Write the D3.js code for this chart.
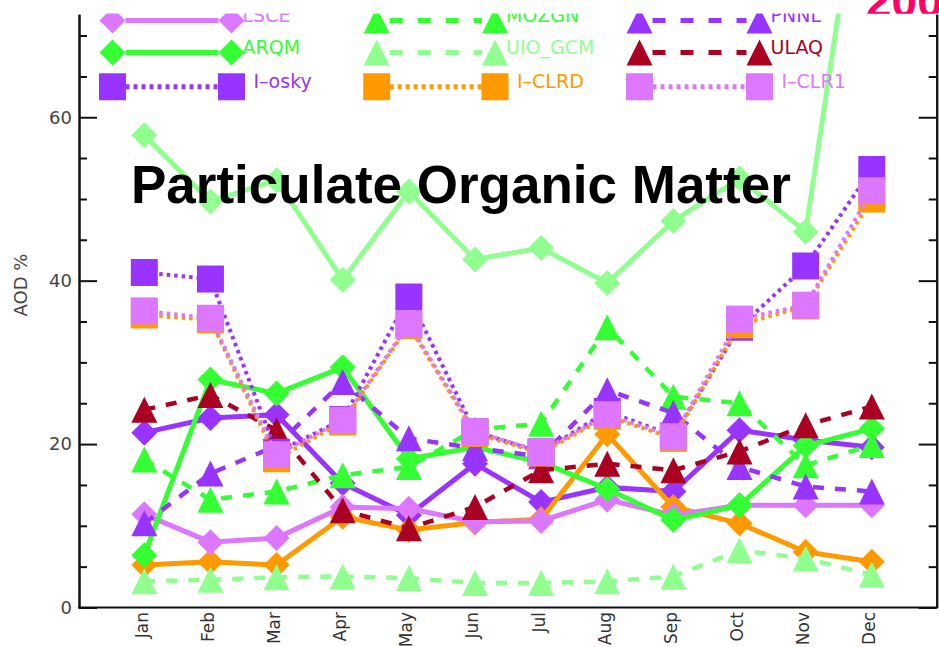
<!DOCTYPE html>
<html>
<head>
<meta charset="utf-8">
<script src="https://cdn.jsdelivr.net/npm/d3@7"></script>
<style>
  body { margin: 0; background: #fff; }
  svg { display: block; }
</style>
</head>
<body>
<svg id="chart" width="939" height="647"></svg>
<script>
// ---- data ----------------------------------------------------------------
const months = ["Jan","Feb","Mar","Apr","May","Jun","Jul","Aug","Sep","Oct","Nov","Dec"];
const yMajorTicks = [0, 20, 40, 60];
const yMinorTicks = [5, 10, 15, 25, 30, 35, 45, 50, 55, 65, 70];
const yTitle = "AOD %";
const chartTitle = "Particulate Organic Matter";
const cornerText = "200";

// monthly AOD share (%) per model
const seriesA   = [57.8, 49.7, 52.3, 40.1, 50.9, 42.6, 44.0, 39.7, 47.3, 52.5, 46.0, 100];
const seriesB   = [21.4, 23.2, 23.6, 15.2, 11.3, 17.6, 12.9, 14.7, 14.2, 21.7, 20.5, 19.6];
const seriesC   = [5.2, 5.6, 5.2, 11.1, 9.5, 10.4, 10.8, 21.2, 12.3, 10.3, 6.8, 5.6];
const lsce      = [11.4, 8.0, 8.5, 12.3, 12.1, 10.5, 10.6, 13.2, 11.3, 12.5, 12.5, 12.5];
const arqm      = [6.4, 27.9, 26.2, 29.4, 18.2, 19.6, 17.8, 14.5, 10.7, 12.5, 19.8, 21.9];
const mozgn     = [18.1, 13.2, 14.2, 16.2, 17.2, 21.8, 22.5, 34.3, 25.8, 25.0, 17.4, 19.9];
const uioGcm    = [3.2, 3.4, 3.7, 3.8, 3.6, 3.0, 3.0, 3.2, 3.8, 7.0, 6.0, 4.0];
const pnnl      = [10.3, 16.4, 19.8, 27.6, 20.7, 19.5, 18.5, 26.6, 23.8, 17.2, 14.8, 14.2];
const ulaq      = [24.2, 26.0, 21.7, 11.9, 9.7, 12.3, 16.8, 17.6, 16.8, 19.1, 22.3, 24.6];
const iOsky     = [41.0, 40.2, 19.0, 23.0, 38.0, 21.5, 19.0, 24.0, 21.0, 34.3, 41.8, 53.6];
const iClrd     = [35.8, 35.2, 18.2, 22.7, 34.5, 21.3, 18.9, 23.4, 20.7, 34.6, 36.9, 50.0];
const iClr1     = [36.3, 35.4, 18.7, 22.9, 34.7, 21.5, 19.1, 23.6, 20.9, 35.3, 37.0, 51.0];

// ---- styles --------------------------------------------------------------
const COL = {
  violet: "#dd77ff", green: "#33ff33", light: "#90ff90",
  purple: "#9933ff", orange: "#ff9900", red: "#aa0022"
};

// draw order: first entries sit underneath
const series = [
  { key: "A",       values: seriesA, color: COL.light,  line: "solid", sym: "diamond" },
  { key: "B",       values: seriesB, color: COL.purple, line: "solid", sym: "diamond" },
  { key: "C",       values: seriesC, color: COL.orange, line: "solid", sym: "diamond" },
  { key: "LSCE",    values: lsce,    color: COL.violet, line: "solid", sym: "diamond" },
  { key: "ARQM",    values: arqm,    color: COL.green,  line: "solid", sym: "diamond" },
  { key: "MOZGN",   values: mozgn,   color: COL.green,  line: "dash",  sym: "triangle" },
  { key: "UIO_GCM", values: uioGcm,  color: COL.light,  line: "dash",  sym: "triangle" },
  { key: "PNNL",    values: pnnl,    color: COL.purple, line: "dash",  sym: "triangle" },
  { key: "ULAQ",    values: ulaq,    color: COL.red,    line: "dash",  sym: "triangle" },
  { key: "I–osky",  values: iOsky,   color: COL.purple, line: "dot",   sym: "square" },
  { key: "I–CLRD",  values: iClrd,   color: COL.orange, line: "dot",   sym: "square" },
  { key: "I–CLR1",  values: iClr1,   color: COL.violet, line: "dot",   sym: "square" }
];

// legend grid (row-major), keys refer to the series above
const legendRows = [
  ["LSCE", "MOZGN", "PNNL"],
  ["ARQM", "UIO_GCM", "ULAQ"],
  ["I–osky", "I–CLRD", "I–CLR1"]
];

const lineWidth = { solid: 5, dash: 4.5, dot: 4 };
const chartDash = { solid: null, dash: "11,11", dot: "3.5,4" };
const legendDash = { solid: null, dash: "13,15", dot: "4,4" };

// ---- layout --------------------------------------------------------------
const svg = d3.select("#chart");
const W = 939, H = 647;
const plotLeft = 79, plotRight = 936.7, plotBottom = 607.5, panelTop = 13.5;

const x = d3.scalePoint().domain(months).range([144.3, 871.8]);
const y = d3.scaleLinear().domain([0, 72.6]).range([plotBottom, 14.3]);

function symbolPath(type) {
  const p = d3.path();
  if (type === "diamond") {
    const r = 13;
    p.moveTo(0, -r); p.lineTo(r, 0); p.lineTo(0, r); p.lineTo(-r, 0); p.closePath();
  } else if (type === "triangle") {
    const r = 13;
    p.moveTo(0, -r); p.lineTo(r, r); p.lineTo(-r, r); p.closePath();
  } else {
    const r = 13.5;
    p.rect(-r, -r, 2 * r, 2 * r);
  }
  return p.toString();
}

// heading text that sits behind the chart panel
svg.append("text")
  .attr("x", 866).attr("y", 17)
  .attr("font-family", "Liberation Sans, Arial, sans-serif")
  .attr("font-weight", "bold").attr("font-size", 46)
  .attr("fill", "#ff0066")
  .text(cornerText);

// chart panel
svg.append("defs").append("clipPath").attr("id", "panel")
  .append("rect").attr("x", 0).attr("y", panelTop).attr("width", W).attr("height", H - panelTop);

const panel = svg.append("g").attr("clip-path", "url(#panel)");
panel.append("rect").attr("x", 0).attr("y", panelTop).attr("width", W).attr("height", H - panelTop).attr("fill", "#fff");

// axes
const axisFont = "DejaVu Sans, Verdana, sans-serif";
const yMajor = panel.append("g").attr("transform", `translate(${plotLeft},0)`)
  .call(d3.axisLeft(y).tickValues(yMajorTicks).tickSize(-18).tickSizeOuter(0).tickPadding(7).tickFormat(d3.format("d")));
const yMinor = panel.append("g").attr("transform", `translate(${plotLeft},0)`)
  .call(d3.axisLeft(y).tickValues(yMinorTicks).tickSize(-8).tickSizeOuter(0).tickFormat(""));
const yMajorR = panel.append("g").attr("transform", `translate(${plotRight},0)`)
  .call(d3.axisRight(y).tickValues(yMajorTicks).tickSize(-18).tickSizeOuter(0).tickFormat(""));
const yMinorR = panel.append("g").attr("transform", `translate(${plotRight},0)`)
  .call(d3.axisRight(y).tickValues(yMinorTicks).tickSize(-8).tickSizeOuter(0).tickFormat(""));
[yMajor, yMinor, yMajorR, yMinorR].forEach(g => {
  g.selectAll("path.domain").attr("stroke", "#111").attr("stroke-width", 2);
  g.selectAll(".tick line").attr("stroke", "#111").attr("stroke-width", 2);
});
yMajor.selectAll(".tick text")
  .attr("font-family", axisFont).attr("font-size", 18).attr("fill", "#444");

const xAxis = panel.append("g").attr("transform", `translate(0,${plotBottom})`)
  .call(d3.axisBottom(x).tickSize(0));
xAxis.select("path.domain").remove();
xAxis.selectAll(".tick text")
  .attr("transform", "rotate(-90)")
  .attr("x", -4.5).attr("y", 3).attr("dy", 0)
  .attr("text-anchor", "end")
  .attr("font-family", axisFont).attr("font-size", 17).attr("fill", "#333");
panel.append("path")
  .attr("d", d3.line()([[plotLeft - 1, plotBottom], [plotRight + 1, plotBottom]]))
  .attr("stroke", "#111").attr("stroke-width", 2);

panel.append("text")
  .attr("transform", `translate(27,285) rotate(-90)`)
  .attr("text-anchor", "middle")
  .attr("font-family", axisFont).attr("font-size", 18).attr("fill", "#444")
  .text(yTitle);

// series
const lineGen = d3.line().x((d, i) => x(months[i])).y(d => y(d));
series.forEach(s => {
  const g = panel.append("g");
  g.append("path")
    .attr("d", lineGen(s.values))
    .attr("fill", "none").attr("stroke", s.color)
    .attr("stroke-width", lineWidth[s.line])
    .attr("stroke-dasharray", chartDash[s.line]);
  g.selectAll("path.mk").data(s.values).join("path")
    .attr("class", "mk")
    .attr("transform", (d, i) => `translate(${x(months[i])},${y(d)})`)
    .attr("d", symbolPath(s.sym))
    .attr("fill", s.color);
});

// legend
const legendX = [[112.5, 231.5], [376.7, 495], [639.5, 759.5]];
const legendY = [20.5, 52.5, 86.7];
legendRows.forEach((row, r) => {
  row.forEach((key, c) => {
    const s = series.find(d => d.key === key);
    const [x1, x2] = legendX[c];
    const yy = legendY[r];
    const g = panel.append("g");
    g.append("path")
      .attr("d", d3.line()([[x1 + 13, yy], [x2 - 13, yy]]))
      .attr("stroke", s.color).attr("stroke-width", 5)
      .attr("stroke-dasharray", legendDash[s.line]);
    [x1, x2].forEach(xx => g.append("path")
      .attr("transform", `translate(${xx},${yy})`)
      .attr("d", symbolPath(s.sym)).attr("fill", s.color));
    g.append("text")
      .attr("x", x2 + (s.sym === "square" ? 22 : 11))
      .attr("y", yy + 1.5)
      .attr("font-family", axisFont).attr("font-size", 19)
      .attr("fill", s.color)
      .text(key);
  });
});

// title
panel.append("text")
  .attr("x", 131).attr("y", 203)
  .attr("font-family", "Liberation Sans, Arial, sans-serif")
  .attr("font-weight", "bold").attr("font-size", 53)
  .attr("fill", "#000")
  .text(chartTitle);
</script>
</body>
</html>
